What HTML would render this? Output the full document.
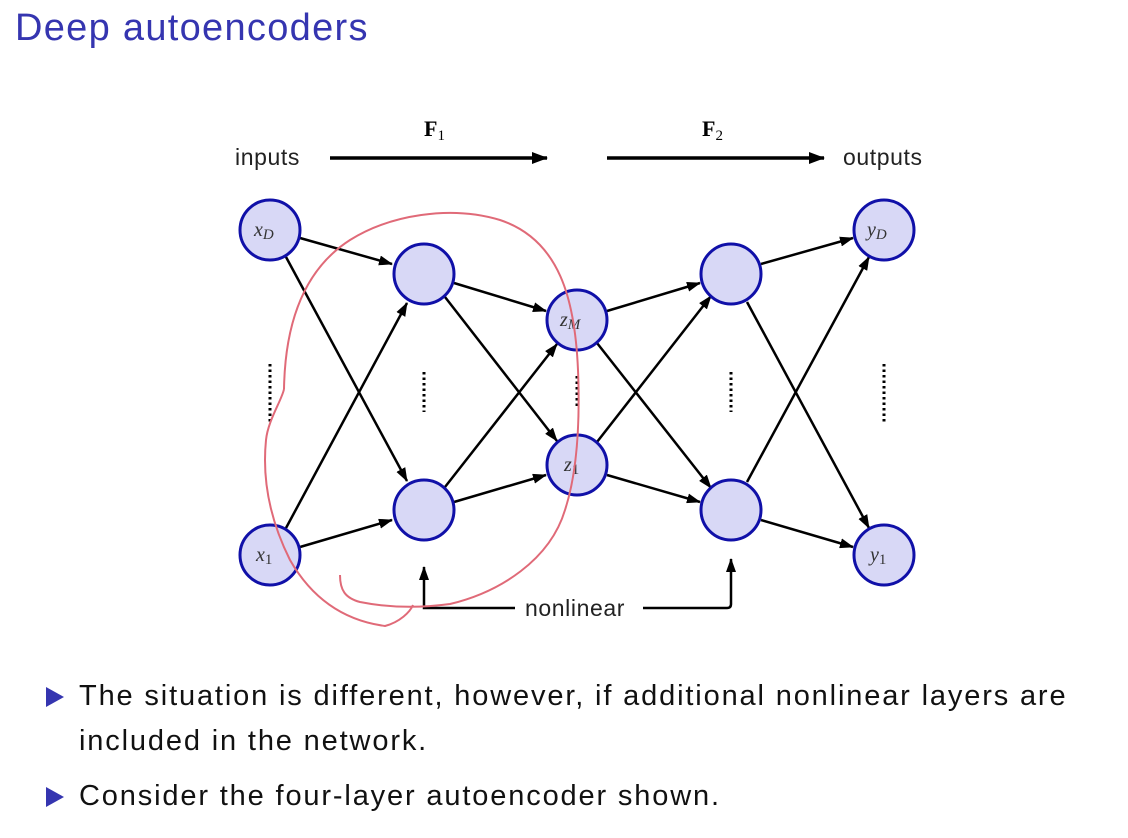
<!DOCTYPE html>
<html><head><meta charset="utf-8"><style>
body{margin:0;background:#fff;width:1128px;height:838px;overflow:hidden;font-family:"Liberation Sans",sans-serif}
.t{position:absolute;left:15px;top:7px;font-size:38px;color:#3535b0;letter-spacing:1.3px}
.b{position:absolute;left:79px;font-size:29px;color:#111;line-height:45px;letter-spacing:1.85px;white-space:nowrap}
.tri{position:absolute;left:46px;width:0;height:0;border-top:10px solid transparent;border-bottom:10px solid transparent;border-left:18px solid #3535b0}
</style></head><body>
<div class="t">Deep autoencoders</div>
<svg width="1128" height="838" style="position:absolute;left:0;top:0">
<defs><marker id="a" markerWidth="14" markerHeight="10" refX="13" refY="5" orient="auto" markerUnits="userSpaceOnUse"><path d="M0,0L14,5L0,10z" fill="#000"/></marker>
<marker id="a2" markerWidth="16" markerHeight="12" refX="15" refY="6" orient="auto" markerUnits="userSpaceOnUse"><path d="M0,0L16,6L0,12z" fill="#000"/></marker></defs>
<g font-family="Liberation Sans" font-size="23" fill="#222" letter-spacing="0.6">
<text x="235" y="165">inputs</text><text x="843" y="165">outputs</text>
<text x="525" y="616">nonlinear</text></g>
<g font-family="Liberation Serif" font-weight="bold" font-size="22"><text x="424" y="136">F<tspan font-size="15" dy="4" font-weight="normal">1</tspan></text><text x="702" y="136">F<tspan font-size="15" dy="4" font-weight="normal">2</tspan></text></g>
<g stroke="#000" stroke-width="3.5"><line x1="330" y1="158" x2="547" y2="158" marker-end="url(#a2)"/><line x1="607" y1="158" x2="824" y2="158" marker-end="url(#a2)"/></g>
<g stroke="#000" stroke-width="2.5" fill="none">
<path d="M515,608H424V567" marker-end="url(#a)"/><path d="M643,608H727q4,0 4,-4V559" marker-end="url(#a)"/>
<line x1="300" y1="238" x2="392" y2="264" marker-end="url(#a)"/>
<line x1="286" y1="257" x2="407" y2="481" marker-end="url(#a)"/>
<line x1="286" y1="528" x2="407" y2="303" marker-end="url(#a)"/>
<line x1="300" y1="547" x2="392" y2="520" marker-end="url(#a)"/>
<line x1="454" y1="283" x2="546" y2="311" marker-end="url(#a)"/>
<line x1="445" y1="297" x2="557" y2="441" marker-end="url(#a)"/>
<line x1="445" y1="487" x2="557" y2="344" marker-end="url(#a)"/>
<line x1="454" y1="502" x2="546" y2="475" marker-end="url(#a)"/>
<line x1="607" y1="311" x2="700" y2="283" marker-end="url(#a)"/>
<line x1="597" y1="343" x2="711" y2="488" marker-end="url(#a)"/>
<line x1="597" y1="442" x2="711" y2="296" marker-end="url(#a)"/>
<line x1="607" y1="475" x2="700" y2="502" marker-end="url(#a)"/>
<line x1="761" y1="264" x2="853" y2="238" marker-end="url(#a)"/>
<line x1="747" y1="482" x2="869" y2="257" marker-end="url(#a)"/>
<line x1="747" y1="302" x2="869" y2="528" marker-end="url(#a)"/>
<line x1="761" y1="520" x2="853" y2="547" marker-end="url(#a)"/>
</g>
<g fill="#d8d8f6" stroke="#1010a8" stroke-width="3">
<circle cx="270" cy="230" r="30"/><circle cx="270" cy="555" r="30"/>
<circle cx="424" cy="274" r="30"/><circle cx="424" cy="510" r="30"/>
<circle cx="577" cy="320" r="30"/><circle cx="577" cy="465" r="30"/>
<circle cx="731" cy="274" r="30"/><circle cx="731" cy="510" r="30"/>
<circle cx="884" cy="230" r="30"/><circle cx="884" cy="555" r="30"/></g>
<g stroke="#000" stroke-width="3" stroke-dasharray="2.5,3"><line x1="270" y1="364" x2="270" y2="422"/><line x1="424" y1="372" x2="424" y2="412"/><line x1="577" y1="376" x2="577" y2="406"/><line x1="731" y1="372" x2="731" y2="412"/><line x1="884" y1="364" x2="884" y2="422"/></g>
<g font-family="Liberation Serif" font-style="italic" font-size="20" fill="#333">
<text x="254" y="236">x<tspan font-size="15" dy="3">D</tspan></text><text x="256" y="561">x<tspan font-size="15" dy="3" font-style="normal">1</tspan></text>
<text x="560" y="326">z<tspan font-size="15" dy="3">M</tspan></text><text x="564" y="471">z<tspan font-size="15" dy="3" font-style="normal">1</tspan></text>
<text x="867" y="236">y<tspan font-size="15" dy="3">D</tspan></text><text x="870" y="561">y<tspan font-size="15" dy="3" font-style="normal">1</tspan></text></g>
<path d="M340,575C340,590 345,598 360,602C390,608 420,608 450,604C500,592 550,560 565,510C578,470 580,420 578,370C575,300 560,240 500,220C450,205 390,215 350,240C300,272 285,330 284,389 M284,389C282,400 268,420 266,440C262,480 270,520 290,560C310,595 340,620 385,626C400,622 410,612 413,605" fill="none" stroke="#e06a78" stroke-width="2"/>
</svg>
<div class="tri" style="top:687px"></div><div class="b" style="top:674px">The situation is different, however, if additional nonlinear layers are<br>included in the network.</div>
<div class="tri" style="top:787px"></div><div class="b" style="top:774px">Consider the four-layer autoencoder shown.</div>
</body></html>
